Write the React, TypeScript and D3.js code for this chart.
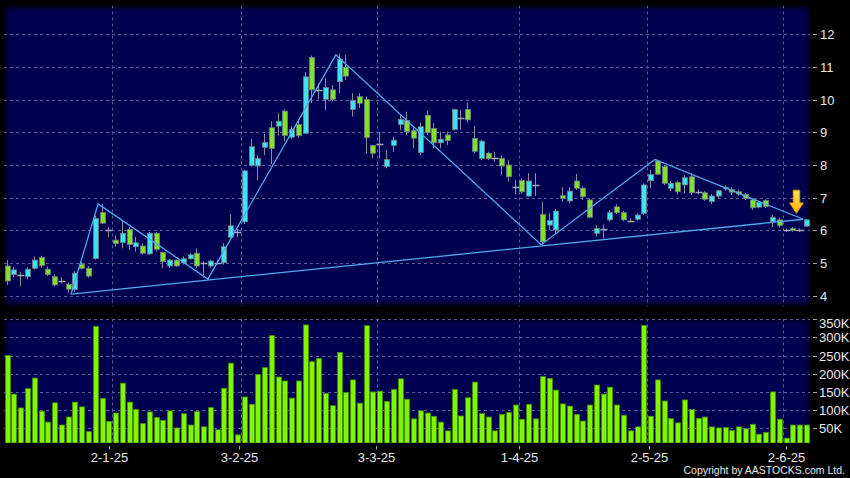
import React, { useEffect, useRef } from 'react';
import * as d3 from 'd3';

// trading calendar: weekdays from 6 Dec 2024 to 5 Jun 2025, HK holidays removed
const firstDay = '2024-12-06';
const lastDay = '2025-06-05';
const holidays = [
  '2024-12-25', '2024-12-26', '2025-01-01', '2025-01-29', '2025-01-30', '2025-01-31',
  '2025-04-04', '2025-04-18', '2025-04-21', '2025-05-01', '2025-05-05',
];

const opens = [
  4.91, 4.65, 4.63, 4.58, 4.84, 5.17, 4.81, 4.58, 4.45, 4.35,
  4.19, 4.96, 4.84, 5.14, 6.55, 6.01, 5.70, 5.63, 6.03, 5.50,
  5.52, 5.28, 5.91, 5.32, 4.91, 5.09, 5.01, 5.13, 5.30, 4.99,
  4.91, 5.01, 5.01, 5.79, 5.94, 6.26, 7.99, 7.97, 8.54, 9.14,
  9.19, 9.65, 8.85, 9.24, 8.97, 11.29, 10.30, 10.01, 10.30, 10.55,
  10.99, 9.70, 10.09, 10.01, 8.60, 8.64, 7.95, 8.60, 9.24, 9.36,
  9.05, 8.38, 9.52, 9.12, 8.68, 8.92, 9.09, 9.43, 9.70, 8.81,
  8.20, 8.36, 8.20, 8.20, 8.00, 7.34, 7.52, 7.05, 7.39, 6.49,
  6.16, 6.01, 7.06, 6.90, 7.51, 7.29, 6.93, 5.91, 6.03, 6.32,
  6.72, 6.54, 6.30, 6.34, 6.52, 7.52, 8.12, 7.95, 7.29, 7.47,
  7.39, 7.64, 7.18, 7.15, 6.88, 7.05, 7.27, 7.25, 7.18, 7.10,
  6.93, 6.71, 6.91, 6.27, 6.32, 6.01, 6.06, 6.01, 6.13,
];
const highs = [
  5.09, 4.87, 4.73, 4.87, 5.20, 5.22, 4.90, 4.65, 4.56, 4.40,
  4.75, 5.05, 4.90, 6.45, 6.80, 6.10, 5.85, 6.30, 6.10, 5.80,
  5.60, 5.95, 5.95, 5.35, 5.12, 5.10, 5.20, 5.30, 5.45, 5.05,
  5.10, 5.10, 5.60, 6.50, 6.05, 7.85, 8.80, 8.30, 8.95, 9.34,
  9.60, 9.70, 9.20, 9.40, 10.85, 11.35, 10.50, 10.65, 10.45, 11.40,
  11.37, 10.20, 10.20, 10.10, 8.60, 9.02, 8.46, 8.87, 9.53, 9.63,
  9.17, 9.30, 9.65, 9.28, 9.02, 9.02, 9.73, 9.68, 9.91, 9.20,
  8.77, 8.41, 8.41, 8.31, 8.15, 7.54, 7.59, 7.75, 7.75, 6.88,
  6.52, 6.65, 7.32, 7.32, 7.72, 7.34, 6.98, 6.16, 6.18, 6.62,
  6.80, 6.60, 6.37, 6.52, 7.44, 7.85, 8.17, 8.00, 7.50, 7.52,
  7.69, 7.74, 7.25, 7.20, 7.10, 7.25, 7.38, 7.33, 7.25, 7.14,
  6.98, 6.90, 6.95, 6.47, 6.37, 6.05, 6.10, 6.06, 6.35,
];
const lows = [
  4.33, 4.56, 4.30, 4.50, 4.80, 4.85, 4.60, 4.28, 4.38, 4.08,
  4.12, 4.80, 4.55, 5.10, 6.20, 5.80, 5.50, 5.45, 5.40, 5.35,
  5.25, 5.25, 5.35, 4.85, 4.85, 4.88, 4.95, 5.10, 4.85, 4.55,
  4.85, 4.95, 4.95, 5.75, 5.80, 6.20, 7.95, 7.54, 8.30, 8.03,
  8.90, 8.72, 8.80, 8.85, 8.95, 9.90, 10.00, 9.68, 9.95, 10.20,
  10.60, 9.48, 9.74, 8.35, 8.20, 8.20, 7.90, 8.40, 9.07, 8.92,
  8.51, 8.31, 8.92, 8.51, 8.51, 8.61, 9.05, 9.09, 9.30, 8.36,
  8.15, 8.15, 8.10, 7.70, 7.49, 7.11, 7.13, 7.03, 7.05, 5.55,
  6.01, 5.91, 6.88, 6.83, 7.24, 6.93, 6.37, 5.81, 5.75, 6.27,
  6.50, 6.28, 6.24, 6.30, 6.47, 7.29, 7.69, 7.39, 7.20, 7.10,
  7.13, 7.08, 7.10, 6.90, 6.81, 7.00, 7.22, 7.08, 7.06, 6.93,
  6.62, 6.67, 6.68, 6.09, 6.09, 5.95, 5.96, 5.95, 6.10,
];
const closes = [
  4.45, 4.79, 4.63, 4.81, 5.09, 4.92, 4.65, 4.33, 4.45, 4.20,
  4.69, 4.84, 4.60, 6.37, 6.22, 6.01, 5.60, 5.91, 5.57, 5.62,
  5.30, 5.91, 5.42, 5.04, 5.09, 4.91, 5.13, 5.25, 4.91, 4.99,
  5.06, 5.01, 5.50, 6.14, 5.94, 7.82, 8.56, 8.20, 8.69, 8.51,
  9.34, 8.90, 9.09, 8.90, 10.70, 10.30, 10.30, 10.37, 10.01, 11.24,
  10.72, 9.98, 9.89, 8.84, 8.36, 8.64, 8.17, 8.76, 9.40, 9.02,
  8.82, 9.17, 8.99, 8.68, 8.79, 8.75, 9.70, 9.43, 9.38, 8.42,
  8.73, 8.20, 8.20, 7.97, 7.64, 7.34, 7.18, 7.51, 7.39, 5.65,
  6.30, 6.59, 6.98, 7.20, 7.29, 7.03, 6.40, 6.06, 6.03, 6.54,
  6.54, 6.32, 6.30, 6.47, 7.39, 7.71, 7.72, 7.44, 7.44, 7.18,
  7.61, 7.15, 7.18, 6.95, 7.05, 7.21, 7.32, 7.17, 7.11, 6.98,
  6.69, 6.85, 6.73, 6.40, 6.15, 6.01, 5.99, 6.01, 6.32,
];
// volume in thousands of shares
const volumes = [
  250, 144, 106, 159, 188, 97, 67, 120, 59, 81,
  122, 109, 41, 330, 132, 69, 92, 174, 122, 102,
  63, 95, 80, 72, 98, 51, 90, 59, 96, 54,
  107, 46, 160, 229, 32, 136, 116, 198, 217, 305,
  191, 180, 133, 180, 334, 233, 242, 146, 112, 258,
  148, 183, 119, 332, 150, 152, 124, 157, 186, 130,
  76, 98, 92, 83, 67, 43, 157, 84, 134, 177,
  91, 81, 43, 88, 94, 114, 75, 116, 76, 192,
  187, 155, 117, 111, 88, 70, 114, 169, 144, 163,
  114, 86, 43, 54, 333, 83, 183, 125, 77, 65,
  128, 102, 77, 81, 54, 51, 52, 44, 54, 49,
  61, 34, 39, 150, 75, 23, 59, 59, 59,
];

// zigzag pivots [bar index, price]
const pivots: [number, number][] = [
  [9.4, 4.05], [13.4, 6.81], [29.6, 4.51], [48.5, 11.37],
  [78.8, 5.56], [95.6, 8.17], [117.5, 6.34],
];
// arrow marker: bar index, top and bottom price
const arrowMark = { index: 116.5, top: 7.23, bottom: 6.52 };

const tickLabels = ['2-1-25', '3-2-25', '3-3-25', '1-4-25', '2-5-25', '2-6-25'];
const priceTicks = [4, 5, 6, 7, 8, 9, 10, 11, 12];
const volumeTicks = [50, 100, 150, 200, 250, 300, 350];

const W = 850;
const H = 478;

export default function App() {
  const svgRef = useRef<SVGSVGElement>(null);

  useEffect(() => {
    if (!svgRef.current) return;
    const svg = d3.select(svgRef.current);
    svg.selectAll('*').remove();

    const parse = d3.utcParse('%Y-%m-%d');
    const fmtKey = d3.utcFormat('%Y-%m-%d');
    const hol = new Set(holidays);
    const dates = d3.utcDay
      .range(parse(firstDay)!, d3.utcDay.offset(parse(lastDay)!, 1))
      .filter(d => d.getUTCDay() > 0 && d.getUTCDay() < 6 && !hol.has(fmtKey(d)));
    const n = dates.length;
    const fmtLabel = d3.utcFormat('%-d-%-m-%y');

    const font = "'Liberation Sans', Arial, sans-serif";
    const pane = { left: 4, right: 810 };
    const pricePane = { top: 5.5, bottom: 306.5 };
    const volPane = { top: 318.5, bottom: 443 };

    const x = d3.scaleBand<number>()
      .domain(d3.range(n))
      .range([pane.left, pane.right])
      .paddingInner(0.2)
      .paddingOuter(0.1);
    const step = x.step();
    const bw = x.bandwidth();
    const xc = d3.scaleLinear().domain([0, n - 1]).range([x(0)! + bw / 2, x(n - 1)! + bw / 2]);
    const xEdge = (i: number) => Math.round(x(i)! - step * 0.1) + 0.5;
    const xTick = d3.scaleLinear().domain([0, n]).range([0, 813.4]);

    const yP = d3.scaleLinear().domain([4, 12]).range([295.7, 34.3]);
    const yV = d3.scaleLinear().domain([0, 350]).range([446.5, 319.1]);

    svg.append('rect').attr('width', W).attr('height', H).attr('fill', '#000');

    const defs = svg.append('defs');
    defs.append('filter').attr('id', 'blur').append('feGaussianBlur').attr('stdDeviation', 2);
    [['clipP', pricePane], ['clipV', volPane]].forEach(([id, p]: any) => {
      defs.append('clipPath').attr('id', id).append('rect')
        .attr('x', pane.left).attr('y', p.top)
        .attr('width', pane.right - pane.left).attr('height', p.bottom - p.top);
    });
    const grad = defs.append('linearGradient').attr('id', 'arrowFill')
      .attr('x1', 0).attr('y1', 0).attr('x2', 0).attr('y2', 1);
    grad.append('stop').attr('offset', '0%').attr('stop-color', '#ffe45a');
    grad.append('stop').attr('offset', '100%').attr('stop-color', '#ffb000');

    // panels with a soft dark edge
    const panels = [['clipP', pricePane], ['clipV', volPane]] as const;
    const layers: Record<string, d3.Selection<SVGGElement, unknown, null, undefined>> = {};
    panels.forEach(([id, p]) => {
      const g = svg.append('g').attr('clip-path', `url(#${id})`);
      g.append('rect')
        .attr('x', pane.left).attr('y', p.top)
        .attr('width', pane.right - pane.left).attr('height', p.bottom - p.top)
        .attr('fill', '#000050');
      g.append('rect')
        .attr('x', pane.left).attr('y', p.top)
        .attr('width', pane.right - pane.left).attr('height', p.bottom - p.top)
        .attr('fill', 'none').attr('stroke', '#000').attr('stroke-width', 5)
        .attr('opacity', 0.8).attr('filter', 'url(#blur)');
      layers[id] = g;
    });
    const gp = layers['clipP'];
    const gv = layers['clipV'];

    const gridColor = '#5d5d92';
    // horizontal grid
    priceTicks.forEach(t => {
      gp.append('line')
        .attr('x1', pane.left).attr('x2', pane.right)
        .attr('y1', Math.round(yP(t)) + 0.5).attr('y2', Math.round(yP(t)) + 0.5)
        .attr('stroke', gridColor).attr('stroke-dasharray', '3,3');
    });
    volumeTicks.forEach(t => {
      gv.append('line')
        .attr('x1', pane.left).attr('x2', pane.right)
        .attr('y1', Math.round(yV(t)) + 0.5).attr('y2', Math.round(yV(t)) + 0.5)
        .attr('stroke', gridColor).attr('stroke-dasharray', '3,3');
    });

    // date gridlines, ticks and labels
    const tickIdx = tickLabels.map(l => dates.findIndex(d => fmtLabel(d) === l));
    tickIdx.forEach((i, k) => {
      [gp, gv].forEach((g, j) => {
        const p = j === 0 ? pricePane : volPane;
        g.append('line')
          .attr('x1', xEdge(i)).attr('x2', xEdge(i))
          .attr('y1', p.top).attr('y2', p.bottom)
          .attr('stroke', gridColor).attr('stroke-dasharray', '3,3');
      });
      const tx = Math.round(xTick(i)) + 0.5;
      svg.append('line').attr('x1', tx).attr('x2', tx).attr('y1', 446).attr('y2', 449.5)
        .attr('stroke', '#aaa');
      svg.append('text')
        .attr('x', tx).attr('y', 461.5)
        .attr('text-anchor', 'middle')
        .attr('font-family', font).attr('font-size', 13).attr('fill', '#e8e8e8')
        .text(tickLabels[k]);
    });

    // right axis labels
    priceTicks.forEach(t => {
      const y = Math.round(yP(t)) + 0.5;
      svg.append('line').attr('x1', 813).attr('x2', 817).attr('y1', y).attr('y2', y).attr('stroke', '#aaa');
      svg.append('text').attr('x', 820).attr('y', y).attr('dy', '0.36em')
        .attr('font-family', font).attr('font-size', 13).attr('fill', '#e8e8e8')
        .text(t);
    });
    volumeTicks.forEach(t => {
      const y = Math.round(yV(t)) + 0.5;
      svg.append('line').attr('x1', 813).attr('x2', 817).attr('y1', y).attr('y2', y).attr('stroke', '#aaa');
      svg.append('text').attr('x', 819).attr('y', Math.max(y, 323)).attr('dy', '0.36em')
        .attr('font-family', font).attr('font-size', 13).attr('fill', '#e8e8e8')
        .text(`${t}K`);
    });

    const bodyW = Math.round(bw);

    // candles
    const cyan = '#3fe2f2';
    const green = '#80e02c';
    const candles = gp.selectAll('.candle')
      .data(d3.range(n))
      .enter().append('g').attr('class', 'candle');

    candles.append('line')
      .attr('x1', i => Math.round(x(i)!) + Math.floor(bodyW / 2) + 0.5)
      .attr('x2', i => Math.round(x(i)!) + Math.floor(bodyW / 2) + 0.5)
      .attr('y1', i => yP(highs[i]))
      .attr('y2', i => yP(lows[i]))
      .attr('stroke', '#8c8c9c').attr('stroke-width', 1);

    candles.filter(i => opens[i] !== closes[i]).append('rect')
      .attr('x', i => Math.round(x(i)!) + 0.5)
      .attr('y', i => yP(Math.max(opens[i], closes[i])))
      .attr('width', bodyW)
      .attr('height', i => Math.max(1, Math.abs(yP(opens[i]) - yP(closes[i]))))
      .attr('fill', i => (closes[i] > opens[i] ? cyan : green))
      .attr('stroke', '#6d7f86').attr('stroke-width', 0.8);

    candles.filter(i => opens[i] === closes[i]).append('line')
      .attr('x1', i => Math.round(x(i)!) - 0.5)
      .attr('x2', i => Math.round(x(i)!) + bodyW + 1.5)
      .attr('y1', i => Math.round(yP(opens[i])) + 0.5)
      .attr('y2', i => Math.round(yP(opens[i])) + 0.5)
      .attr('stroke', '#a8a8b4').attr('stroke-width', 1.5);

    // zigzag and support line
    const line = d3.line<[number, number]>().x(d => xc(d[0])).y(d => yP(d[1]));
    gp.append('path').attr('d', line(pivots)).attr('fill', 'none')
      .attr('stroke', '#4fa9ec').attr('stroke-width', 1.3);
    gp.append('path').attr('d', line([pivots[0], pivots[pivots.length - 1]])).attr('fill', 'none')
      .attr('stroke', '#4fa9ec').attr('stroke-width', 1.3);

    // arrow
    const ax = xc(arrowMark.index);
    const yt = yP(arrowMark.top);
    const yb = yP(arrowMark.bottom);
    const yh = yt + (yb - yt) * 0.55;
    const ap = d3.path();
    ap.moveTo(ax - 3.3, yt);
    ap.lineTo(ax + 3.3, yt);
    ap.lineTo(ax + 3.3, yh);
    ap.lineTo(ax + 7, yh);
    ap.lineTo(ax, yb);
    ap.lineTo(ax - 7, yh);
    ap.lineTo(ax - 3.3, yh);
    ap.closePath();
    gp.append('path').attr('d', ap.toString())
      .attr('fill', 'url(#arrowFill)').attr('stroke', '#e09000').attr('stroke-width', 0.8);

    // volume bars
    gv.selectAll('.vol')
      .data(d3.range(n))
      .enter().append('rect')
      .attr('class', 'vol')
      .attr('x', i => Math.round(x(i)!) + 0.5)
      .attr('y', i => yV(volumes[i]))
      .attr('width', bodyW)
      .attr('height', i => volPane.bottom - yV(volumes[i]))
      .attr('fill', '#80f400')
      .attr('stroke', '#3f8f00').attr('stroke-width', 0.8);

    svg.append('text')
      .attr('x', 845).attr('y', 474)
      .attr('text-anchor', 'end')
      .attr('font-family', font)
      .attr('font-size', 10.5).attr('fill', '#e8e8e8')
      .text('Copyright by AASTOCKS.com Ltd.');
  }, []);

  return (
    <svg
      ref={svgRef}
      width={W}
      height={H}
      style={{ position: 'absolute', left: 0, top: 0, display: 'block' }}
    />
  );
}
